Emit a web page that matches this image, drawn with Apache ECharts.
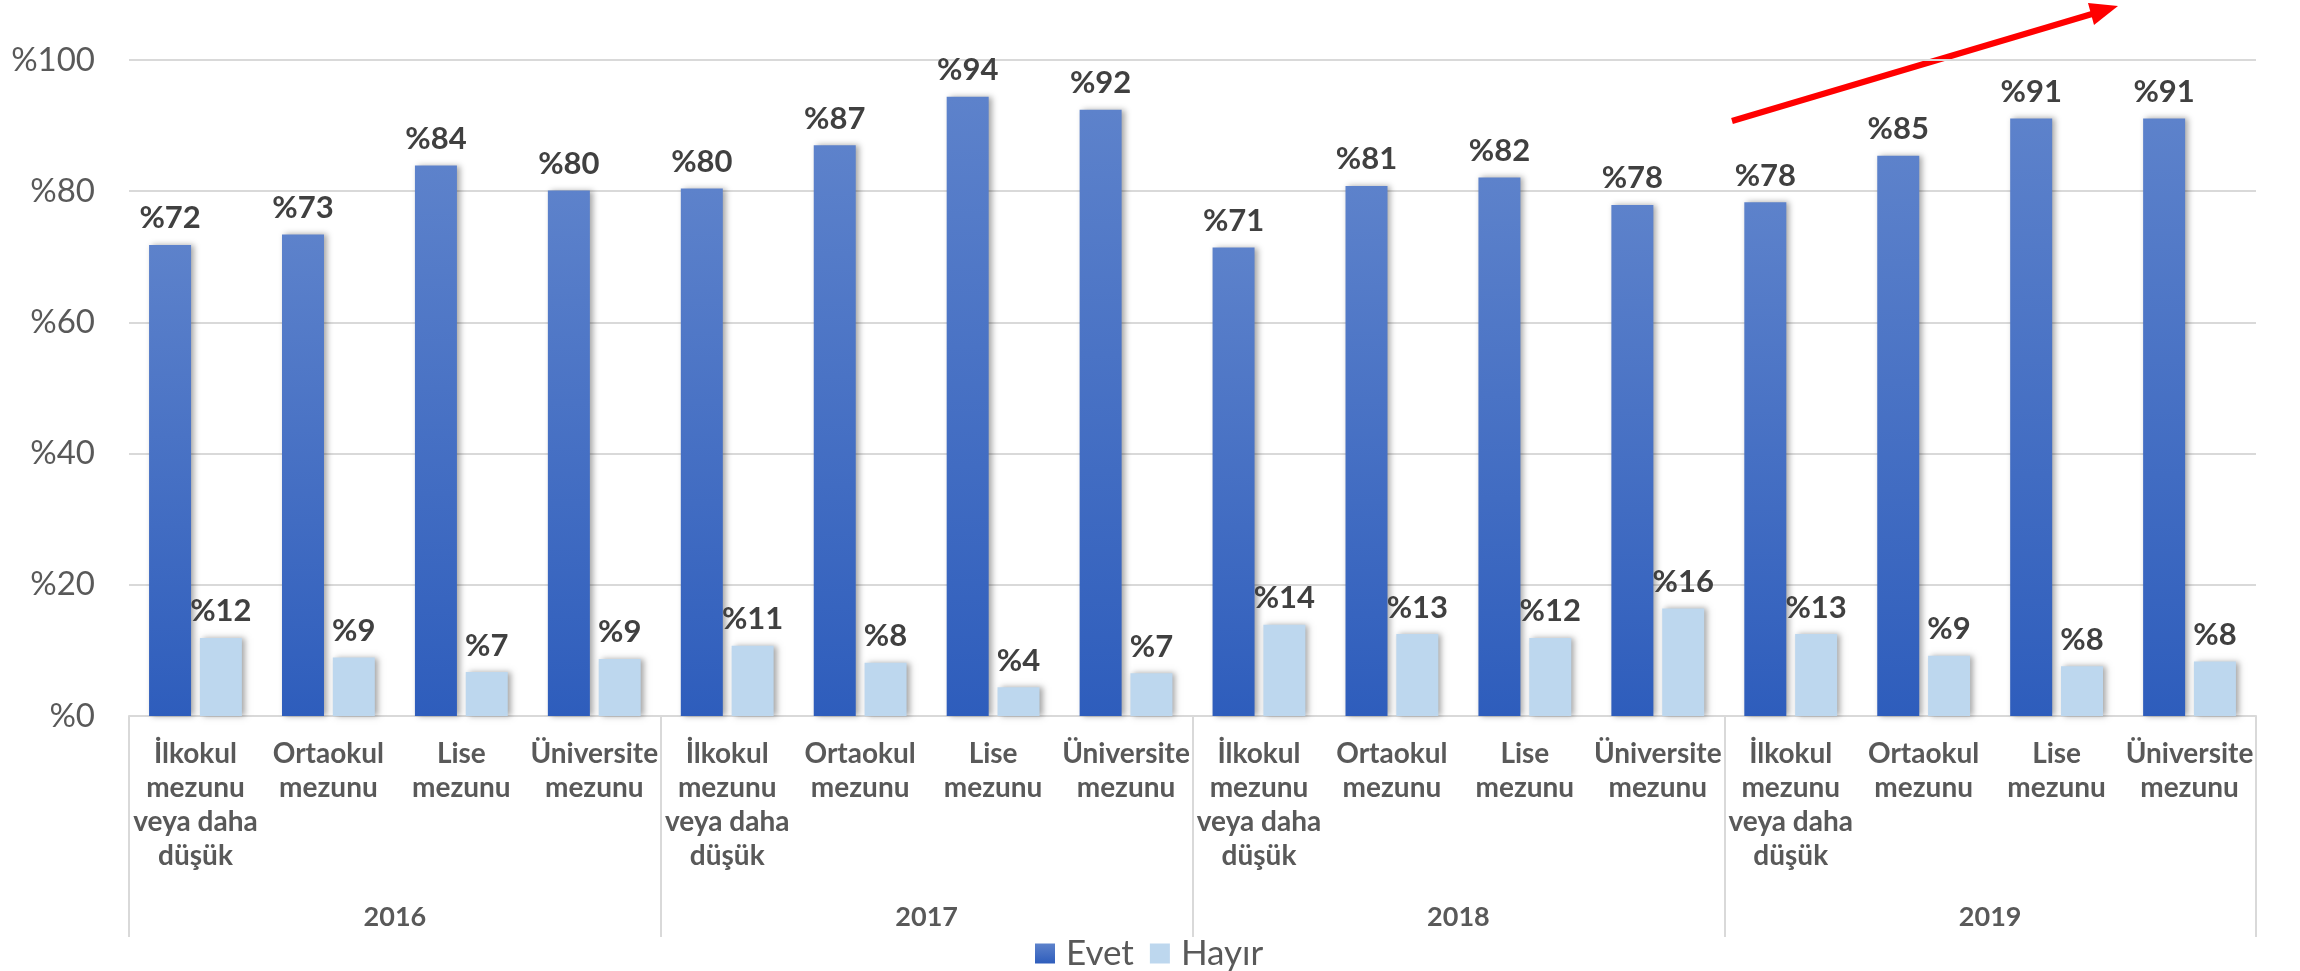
<!DOCTYPE html>
<html>
<head>
<meta charset="utf-8">
<script src="https://cdn.jsdelivr.net/npm/echarts@6/dist/echarts.min.js"></script>
<style>
  html, body { margin: 0; padding: 0; background: #fff; }
  #main { width: 2300px; height: 971px; }
</style>
</head>
<body>
<div id="main"></div>
<script>
// egitim durumu x yil
const years = ['2016', '2017', '2018', '2019']
const levels = ['İlkokul\nmezunu\nveya daha\ndüşük', 'Ortaokul\nmezunu', 'Lise\nmezunu', 'Üniversite\nmezunu']
const categories = years.flatMap(() => levels)

const evet = [71.8, 73.4, 83.9, 80.1, 80.4, 87.0, 94.4, 92.4, 71.4, 80.8, 82.1, 77.9, 78.3, 85.4, 91.1, 91.1]
const hayir = [11.9, 8.9, 6.7, 8.7, 10.7, 8.1, 4.4, 6.5, 13.9, 12.5, 11.9, 16.4, 12.5, 9.2, 7.6, 8.3]
const yTicks = [0, 20, 40, 60, 80, 100]

const font = 'Lato, "Open Sans", sans-serif'
const grey = '#d9d9d9'

var myChart = echarts.init(document.getElementById('main'))

const barLabel = {
  show: true,
  position: 'top',
  distance: 11,
  formatter: p => '%' + Math.round(p.value),
  fontFamily: font,
  fontWeight: 'bold',
  fontSize: 31,
  color: '#404040'
}
const shadow = {
  shadowColor: 'rgba(0,0,0,0.35)',
  shadowBlur: 6,
  shadowOffsetX: 3
}

var option = {
  animation: false,
  textStyle: { fontFamily: font },
  grid: { left: 129, right: 44, top: 60, bottom: 255 },
  legend: {
    left: 1030,
    top: 931,
    icon: 'rect',
    itemWidth: 20,
    itemHeight: 20,
    itemGap: 16,
    textStyle: { fontSize: 35, color: '#595959', fontFamily: font, padding: [0, 0, 0, 6] },
    data: ['Evet', 'Hayır']
  },
  xAxis: [
    {
      type: 'category',
      data: categories,
      axisLine: { lineStyle: { color: grey, width: 2 } },
      axisTick: { show: false },
      axisLabel: {
        interval: 0,
        margin: 21,
        fontSize: 28,
        lineHeight: 34,
        fontWeight: 'bold',
        color: '#595959',
        fontFamily: font
      }
    },
    {
      type: 'category',
      data: years,
      position: 'bottom',
      axisLine: { show: false },
      axisTick: { show: true, length: 221, lineStyle: { color: grey, width: 2 } },
      axisLabel: {
        interval: 0,
        margin: 188,
        fontSize: 27,
        fontWeight: 'bold',
        color: '#595959',
        fontFamily: font
      }
    }
  ],
  yAxis: {
    type: 'value',
    min: yTicks[0],
    max: yTicks[yTicks.length - 1],
    interval: 20,
    axisLine: { show: false },
    axisTick: { show: false },
    splitLine: { lineStyle: { color: grey, width: 2 } },
    axisLabel: {
      margin: 34,
      fontSize: 33,
      color: '#595959',
      fontFamily: font,
      formatter: v => '%' + v
    }
  },
  series: [
    {
      name: 'Evet',
      type: 'bar',
      xAxisIndex: 0,
      barWidth: 42,
      barGap: '21%',
      data: evet,
      label: barLabel,
      itemStyle: Object.assign({
        color: new echarts.graphic.LinearGradient(0, 0, 0, 1, [
          { offset: 0, color: '#5d82cb' },
          { offset: 1, color: '#2e5dbc' }
        ])
      }, shadow)
    },
    {
      name: 'Hayır',
      type: 'bar',
      xAxisIndex: 0,
      barWidth: 42,
      data: hayir,
      label: barLabel,
      itemStyle: Object.assign({ color: '#bdd7ee' }, shadow)
    }
  ],
  graphic: [
    {
      type: 'line',
      shape: { x1: 1732, y1: 121, x2: 2092, y2: 14 },
      style: { stroke: '#ff0000', lineWidth: 6 }
    },
    {
      type: 'polygon',
      shape: { points: [[2118, 6], [2094, 25], [2088, 3]] },
      style: { fill: '#ff0000' }
    }
  ]
}

myChart.setOption(option)
</script>
</body>
</html>
